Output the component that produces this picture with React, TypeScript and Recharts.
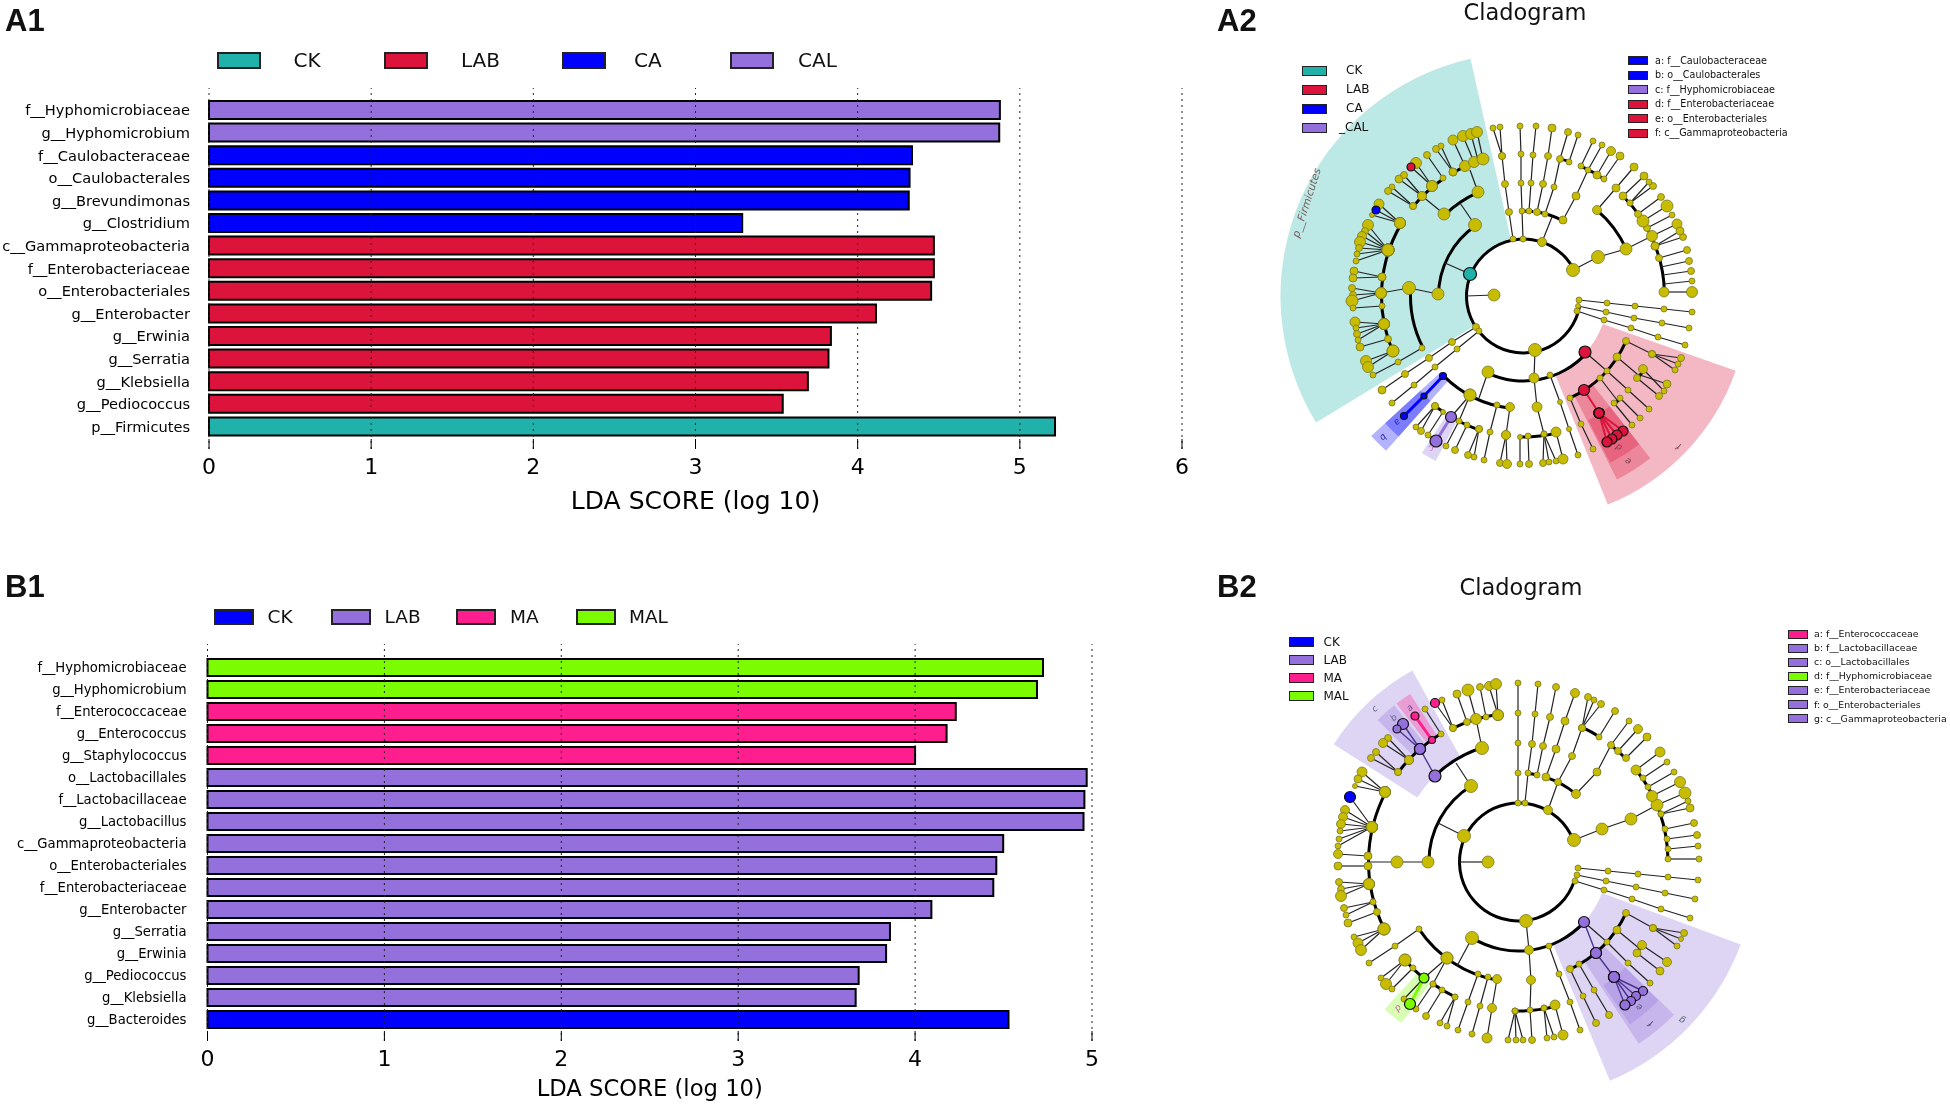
import React from "react";
import { Bar, BarChart, Cell, Pie, PieChart, ReferenceLine, Scatter, ScatterChart, XAxis, YAxis } from "recharts";

const FONT = "'DejaVu Sans', sans-serif";

const GROUP_COLORS: Record<string, string> = {
  CK: "#20B2AA", LAB: "#DC143C", CA: "#0000FF", CAL: "#9370DB",
  CK2: "#0000FF", LAB2: "#9370DB", MA: "#FF1E8E", MAL: "#7CFC00",
  base: "#C8BC00",
};
const LINE_COLORS: Record<string, string> = { base: "#222", LAB2: "#4b3590" };
const LINE_WIDTHS: Record<string, number> = { base: 1.2, LAB: 2, LAB2: 1.4, CA: 3, CAL: 3, MA: 3, MAL: 3, CK: 1.2, CK2: 1.2 };

// ---- LDA bar data, panel A1 ----
const a1Taxa = [
  "f__Hyphomicrobiaceae", "g__Hyphomicrobium", "f__Caulobacteraceae", "o__Caulobacterales", "g__Brevundimonas",
  "g__Clostridium", "c__Gammaproteobacteria", "f__Enterobacteriaceae", "o__Enterobacteriales", "g__Enterobacter",
  "g__Erwinia", "g__Serratia", "g__Klebsiella", "g__Pediococcus", "p__Firmicutes",
];
const a1Scores = [4.877, 4.873, 4.335, 4.32, 4.315, 3.288, 4.47, 4.47, 4.453, 4.113, 3.835, 3.82, 3.693, 3.538, 5.217];
const a1Groups = ["CAL", "CAL", "CA", "CA", "CA", "CA", "LAB", "LAB", "LAB", "LAB", "LAB", "LAB", "LAB", "LAB", "CK"];
const a1Ticks = [0, 1, 2, 3, 4, 5, 6];

// ---- LDA bar data, panel B1 ----
const b1Taxa = [
  "f__Hyphomicrobiaceae", "g__Hyphomicrobium", "f__Enterococcaceae", "g__Enterococcus", "g__Staphylococcus",
  "o__Lactobacillales", "f__Lactobacillaceae", "g__Lactobacillus", "c__Gammaproteobacteria", "o__Enterobacteriales",
  "f__Enterobacteriaceae", "g__Enterobacter", "g__Serratia", "g__Erwinia", "g__Pediococcus", "g__Klebsiella", "g__Bacteroides",
];
const b1Scores = [4.723, 4.689, 4.23, 4.178, 4.0, 4.97, 4.957, 4.952, 4.498, 4.459, 4.442, 4.092, 3.858, 3.836, 3.681, 3.664, 4.528];
const b1Groups = ["MAL", "MAL", "MA", "MA", "MA", "LAB2", "LAB2", "LAB2", "LAB2", "LAB2", "LAB2", "LAB2", "LAB2", "LAB2", "LAB2", "LAB2", "CK2"];
const b1Ticks = [0, 1, 2, 3, 4, 5];

// ---- cladogram A2 ----
// wedges: group, start angle, end angle, inner ring, outer ring
const a2Wedges: [string, number, number, number, number][] = [
  ["CK", 102.6, 211.4, 57, 243],
  ["LAB", -68, -19.4, 84, 225],
  ["LAB", -63, -52, 112, 206],
  ["LAB", -62.5, -52, 140, 188],
  ["CA", 222.6, 228.4, 113, 207],
  ["CA", 222.6, 228.4, 140, 188],
  ["CAL", 237.1, 242, 140, 187],
];
// thick arcs: ring, start angle, end angle
const a2Arcs: [number, number, number][] = [
  [57, 27.5, 350], [85, 62.5, 81], [85, 83.5, 90], [85, 124, 180], [85, 245, 318],
  [113, 113.6, 134], [113, 176, 207], [113, 24.6, 49.5], [113, 225, 263], [112, -65.5, -24],
  [142, 106.5, 120], [142, 124, 141], [142, 149, 203], [141, 1.6, 45], [142, 55.5, 66], [142, 71, 75],
  [141, 242, 251], [141, 231, 235], [141, 268.6, 283.4], [141, -36, -31], [141, -50, -47],
];
// branches of the tree: [x, y, size], clade colour by key
type P = [number, number, number];
const a2Branches: Record<string, P[][]> = {
  base: [
    [[1523, 239, 3], [1522, 211, 3], [1521, 183, 3], [1521, 154, 3], [1520, 126, 3]],
    [[1529, 211, 3], [1531, 183, 3], [1533, 155, 3], [1536, 126, 3]],
    [[1513, 239, 3], [1509, 212, 3.5], [1505, 184, 3.5], [1502, 156, 3.5], [1500, 127, 3]],
    [[1502, 156, 3.5], [1493, 128, 3]],
    [[1542, 242, 4.5], [1552, 217, 1]],
    [[1537, 212, 3.5], [1543, 184, 3.5], [1548, 156, 3.5], [1552, 128, 4]],
    [[1545, 214, 3], [1554, 187, 3], [1560, 159, 3.5], [1568, 132, 3.5]],
    [[1569, 162, 3], [1578, 135, 3]],
    [[1563, 220, 4], [1576, 196, 4], [1588, 170, 3], [1602, 145, 3]],
    [[1581, 166, 3], [1593, 141, 3]],
    [[1597, 175, 4], [1611, 151, 4.5]],
    [[1604, 179, 3], [1620, 156, 4]],
    [[1573, 270, 6.5], [1598, 257, 6.5], [1626, 249, 6], [1652, 236, 5.5], [1677, 224, 5]],
    [[1597, 210, 4.5], [1616, 188, 4], [1634, 167, 4]],
    [[1664, 292, 5], [1692, 292, 5.5]],
    [[1664, 284, 1], [1692, 281, 3]],
    [[1663, 275, 1], [1691, 271, 3.5]],
    [[1661, 267, 1], [1689, 261, 3.5]],
    [[1659, 258, 3.5], [1687, 250, 3.5]],
    [[1655, 246, 4], [1683, 237, 3.5]],
    [[1655, 246, 4], [1680, 231, 4]],
    [[1647, 228, 3.5], [1672, 215, 3]],
    [[1643, 221, 6], [1667, 206, 6]],
    [[1638, 214, 3.5], [1661, 197, 3.5]],
    [[1630, 203, 3], [1653, 186, 3.5]],
    [[1630, 203, 3], [1649, 182, 3]],
    [[1623, 196, 4], [1644, 176, 4]],
    [[1445, 263, 1], [1470, 274, 1]],
    [[1460, 203, 1], [1475, 225, 6.5]],
    [[1478, 192, 6], [1470, 170, 1]],
    [[1453, 172, 4], [1441, 146, 3]],
    [[1453, 172, 4], [1436, 149, 3.5]],
    [[1443, 178, 3], [1427, 155, 3.5]],
    [[1465, 166, 5.5], [1453, 140, 5]],
    [[1474, 162, 5.5], [1463, 136, 5.5]],
    [[1478, 160, 1], [1471, 134, 5.5]],
    [[1483, 159, 6], [1477, 132, 5.5]],
    [[1444, 214, 6], [1422, 196, 4.5], [1399, 179, 4]],
    [[1422, 196, 4.5], [1404, 175, 3.5]],
    [[1432, 186, 5.5], [1416, 163, 5.5]],
    [[1432, 186, 5.5], [1411, 167, 1]],
    [[1413, 206, 3.5], [1392, 187, 3]],
    [[1413, 206, 3.5], [1388, 191, 3.5]],
    [[1400, 223, 5.5], [1379, 204, 5]],
    [[1400, 223, 5.5], [1376, 210, 1]],
    [[1400, 223, 5.5], [1372, 215, 2.5]],
    [[1388, 250, 6], [1368, 225, 5.5]],
    [[1388, 250, 6], [1365, 231, 3.5]],
    [[1388, 250, 6], [1362, 236, 4.5]],
    [[1388, 250, 6], [1360, 242, 5.5]],
    [[1388, 250, 6], [1359, 248, 3.5]],
    [[1388, 250, 6], [1357, 254, 3]],
    [[1388, 250, 6], [1356, 261, 3]],
    [[1382, 277, 4], [1354, 271, 4]],
    [[1382, 277, 4], [1353, 278, 4]],
    [[1352, 288, 3.5], [1381, 293, 5.5], [1409, 288, 6.5], [1438, 294, 6]],
    [[1381, 293, 5.5], [1353, 295, 3.5]],
    [[1381, 293, 5.5], [1352, 301, 6]],
    [[1382, 306, 3], [1353, 308, 3]],
    [[1466, 296, 1], [1494, 295, 6]],
    [[1384, 324, 5.5], [1355, 322, 5]],
    [[1384, 324, 5.5], [1356, 328, 3]],
    [[1384, 324, 5.5], [1357, 334, 3.5]],
    [[1384, 324, 5.5], [1358, 340, 3]],
    [[1388, 339, 3.5], [1360, 347, 4]],
    [[1393, 351, 6], [1366, 361, 5.5]],
    [[1393, 351, 6], [1368, 367, 5.5]],
    [[1422, 348, 3], [1398, 362, 3], [1373, 375, 3]],
    [[1476, 327, 3.5], [1452, 342, 3.5], [1429, 358, 3.5], [1405, 374, 3.5], [1382, 390, 4]],
    [[1479, 331, 3], [1457, 349, 3], [1435, 367, 3], [1414, 385, 3], [1392, 403, 3]],
    [[1488, 372, 6], [1479, 398, 1]],
    [[1470, 395, 6], [1459, 421, 3], [1446, 446, 3]],
    [[1470, 395, 6], [1451, 417, 1]],
    [[1435, 406, 3.5], [1416, 427, 3]],
    [[1435, 406, 3.5], [1421, 431, 3.5]],
    [[1443, 412, 2.5], [1428, 435, 3]],
    [[1467, 425, 3], [1455, 450, 3.5]],
    [[1479, 429, 3.5], [1468, 455, 3.5]],
    [[1479, 429, 3.5], [1474, 457, 3]],
    [[1497, 405, 3], [1490, 432, 3], [1484, 460, 3]],
    [[1510, 407, 4.5], [1506, 435, 4.5], [1500, 463, 3.5]],
    [[1506, 435, 4.5], [1507, 464, 4.5]],
    [[1535, 350, 6.5], [1534, 378, 5], [1537, 407, 5], [1544, 434, 3], [1543, 463, 3.5]],
    [[1544, 434, 3], [1549, 462, 3]],
    [[1544, 434, 3], [1556, 461, 3]],
    [[1520, 437, 2.5], [1520, 464, 3]],
    [[1528, 436, 3], [1529, 464, 3.5]],
    [[1556, 432, 5], [1563, 459, 5]],
    [[1550, 375, 3], [1560, 402, 2.5], [1569, 429, 2.5], [1578, 455, 3]],
    [[1579, 300, 3], [1607, 303, 3], [1635, 306, 3], [1664, 309, 3], [1692, 312, 3]],
    [[1578, 306, 2.5], [1606, 312, 3], [1634, 318, 3], [1662, 323, 3], [1689, 328, 3]],
    [[1577, 311, 3], [1604, 320, 3], [1631, 328, 3], [1658, 337, 3], [1685, 345, 3]],
    [[1585, 352, 1], [1607, 371, 3], [1628, 390, 3], [1649, 409, 3]],
    [[1617, 357, 4], [1637, 374, 1], [1667, 384, 4]],
    [[1643, 369, 4.5], [1664, 391, 3]],
    [[1637, 378, 3.5], [1659, 396, 3.5]],
    [[1626, 341, 3.5], [1652, 354, 3.5], [1681, 358, 3.5]],
    [[1652, 354, 3.5], [1678, 364, 3]],
    [[1652, 354, 3.5], [1675, 370, 3]],
    [[1600, 378, 3], [1617, 400, 1]],
    [[1620, 398, 3], [1640, 418, 3]],
    [[1614, 403, 3], [1632, 425, 3]],
    [[1570, 398, 3], [1581, 424, 3], [1593, 449, 3]],
  ],
  CK: [[[1470, 274, 6.5]]],
  LAB: [
    [[1585, 352, 6]],
    [[1411, 167, 4]],
    [[1584, 390, 5.5], [1599, 413, 5]],
    [[1599, 413, 5], [1623, 431, 5]],
    [[1599, 413, 5], [1617, 435, 5]],
    [[1599, 413, 5], [1612, 439, 5]],
    [[1599, 413, 5], [1607, 442, 5]],
  ],
  CA: [
    [[1443, 376, 3.5], [1424, 396, 3], [1404, 416, 3.5]],
    [[1376, 210, 4]],
  ],
  CAL: [
    [[1451, 417, 5.5], [1436, 441, 6]],
  ],
};
const a2Labels = [
  { x: 1307, y: 203, text: "p__Firmicutes", angle: -72, color: "#7a5a5a", size: 10.5 },
  { x: 1383, y: 437, text: "b", angle: 135, color: "#2a2aa0", size: 9 },
  { x: 1397, y: 422, text: "a", angle: 135, color: "#2a2aa0", size: 9 },
  { x: 1431, y: 448, text: "c", angle: 150, color: "#cc66cc", size: 9 },
  { x: 1619, y: 447, text: "d", angle: -150, color: "#7a3a4a", size: 9 },
  { x: 1628, y: 461, text: "e", angle: -150, color: "#7a3a4a", size: 9 },
  { x: 1679, y: 446, text: "f", angle: -150, color: "#7a3a4a", size: 9 },
];
const a2Legend = ["CK", "LAB", "CA", "CAL"];
const a2CladeKey = [
  ["a: f__Caulobacteraceae", "CA"], ["b: o__Caulobacterales", "CA"], ["c: f__Hyphomicrobiaceae", "CAL"],
  ["d: f__Enterobacteriaceae", "LAB"], ["e: o__Enterobacteriales", "LAB"], ["f: c__Gammaproteobacteria", "LAB"],
];

// ---- cladogram B2 ----
const b2Wedges: [string, number, number, number, number][] = [
  ["LAB2", 119, 147.5, 120, 219],
  ["LAB2", 128.4, 134.8, 150, 200],
  ["MA", 122.8, 127.6, 150, 200],
  ["LAB2", -67.3, -20.4, 89, 237],
  ["LAB2", -56.5, -44.5, 119, 218],
  ["LAB2", -55.5, -44.7, 150, 197],
  ["MAL", 227.7, 234, 150, 199],
];
const b2Arcs: [number, number, number][] = [
  [59, 21.6, 341.4], [89.6, 122, 180], [89, 238.5, 317.5], [89, 50, 72], [89, 78, 84],
  [120, 107.8, 134], [120, 214, 260], [119, -64.3, -25.4],
  [150, 121, 143], [150, 152, 206.5], [149, 98, 116], [149, 57, 64.6], [149, 44, 52], [149.5, 1, 38],
  [149, 268.7, 284.3], [150, 220.8, 231], [149, 235, 245], [149, -37.5, -33.9],
];
const b2Branches: Record<string, P[][]> = {
  base: [
    [[1518, 803, 3], [1518, 773, 3], [1518, 743, 3], [1518, 713, 3], [1518, 683, 3]],
    [[1525, 803, 3], [1528, 773, 3], [1532, 744, 3.5], [1535, 714, 3], [1538, 684, 3]],
    [[1537, 775, 3], [1543, 746, 3.5], [1550, 717, 3.5], [1556, 687, 3.5]],
    [[1548, 810, 4.5], [1558, 782, 3.5], [1572, 756, 3.5], [1582, 728, 3.5], [1588, 697, 3.5]],
    [[1582, 728, 3.5], [1594, 700, 3]],
    [[1582, 728, 3.5], [1601, 704, 3.5]],
    [[1599, 737, 3], [1615, 711, 3.5]],
    [[1546, 777, 4], [1556, 749, 4], [1565, 721, 4], [1575, 693, 4.5]],
    [[1576, 794, 4.5], [1597, 772, 4], [1611, 745, 3.5], [1629, 721, 3]],
    [[1618, 751, 3.5], [1638, 729, 4.5]],
    [[1626, 758, 3.5], [1647, 737, 4]],
    [[1574, 840, 6.5], [1602, 829, 6], [1631, 819, 6], [1657, 805, 6], [1685, 793, 6]],
    [[1636, 770, 5], [1660, 752, 5]],
    [[1643, 778, 3], [1667, 762, 3]],
    [[1648, 787, 3], [1674, 772, 3]],
    [[1652, 796, 5.5], [1680, 782, 5.5]],
    [[1661, 814, 3], [1688, 801, 3]],
    [[1661, 814, 3], [1690, 808, 4]],
    [[1665, 829, 3], [1694, 823, 3.5]],
    [[1667, 839, 3], [1697, 835, 3.5]],
    [[1668, 849, 3], [1698, 846, 3]],
    [[1668, 859, 3], [1699, 859, 3]],
    [[1471, 786, 6.5], [1456, 763, 1]],
    [[1482, 748, 6.5], [1476, 719, 5.5], [1468, 690, 6]],
    [[1453, 728, 3.5], [1442, 700, 3]],
    [[1453, 728, 3.5], [1435, 703, 1]],
    [[1467, 722, 3.5], [1457, 694, 4]],
    [[1486, 717, 3], [1480, 687, 3.5]],
    [[1498, 715, 5.5], [1489, 686, 4.5]],
    [[1498, 715, 5.5], [1496, 684, 5.5]],
    [[1409, 760, 4.5], [1388, 738, 3.5]],
    [[1409, 760, 4.5], [1383, 743, 4.5]],
    [[1398, 772, 3.5], [1376, 752, 3.5]],
    [[1398, 772, 3.5], [1371, 758, 3.5]],
    [[1441, 734, 3], [1425, 709, 3]],
    [[1464, 836, 6.5], [1438, 823, 1]],
    [[1385, 792, 5.5], [1362, 772, 5]],
    [[1385, 792, 5.5], [1358, 779, 4]],
    [[1385, 792, 5.5], [1355, 786, 2.5]],
    [[1372, 827, 5.5], [1350, 797, 1]],
    [[1372, 827, 5.5], [1345, 810, 4.5]],
    [[1372, 827, 5.5], [1343, 817, 4.5]],
    [[1372, 827, 5.5], [1341, 824, 4.5]],
    [[1372, 827, 5.5], [1340, 831, 3]],
    [[1372, 827, 5.5], [1339, 839, 3]],
    [[1372, 827, 5.5], [1338, 846, 3]],
    [[1368, 856, 4], [1338, 854, 4.5]],
    [[1368, 866, 4], [1338, 866, 4]],
    [[1368, 862, 1], [1397, 862, 6], [1428, 862, 6]],
    [[1459, 862, 1], [1488, 862, 6]],
    [[1369, 884, 5.5], [1339, 882, 3.5]],
    [[1369, 884, 5.5], [1341, 889, 3.5]],
    [[1369, 884, 5.5], [1341, 896, 5.5]],
    [[1373, 902, 3], [1344, 908, 3.5]],
    [[1373, 902, 3], [1346, 915, 3]],
    [[1377, 912, 3.5], [1348, 923, 4]],
    [[1384, 929, 6], [1354, 937, 3]],
    [[1384, 929, 6], [1358, 943, 5]],
    [[1384, 929, 6], [1361, 950, 5.5]],
    [[1419, 929, 3], [1395, 946, 3], [1369, 963, 3]],
    [[1472, 938, 6.5], [1457, 966, 1]],
    [[1447, 958, 6], [1433, 984, 3]],
    [[1447, 958, 6], [1424, 978, 1]],
    [[1405, 960, 6], [1381, 978, 3]],
    [[1405, 960, 6], [1386, 984, 5.5]],
    [[1413, 968, 3], [1392, 989, 3]],
    [[1424, 978, 1], [1404, 999, 3]],
    [[1433, 984, 3], [1416, 1009, 3]],
    [[1442, 990, 3], [1426, 1016, 3.5]],
    [[1455, 997, 3], [1440, 1023, 3]],
    [[1455, 997, 3], [1447, 1026, 3]],
    [[1478, 974, 3], [1468, 1002, 3], [1458, 1030, 3]],
    [[1488, 977, 3], [1480, 1006, 3], [1472, 1034, 3]],
    [[1497, 979, 4.5], [1492, 1008, 4.5], [1487, 1038, 5]],
    [[1526, 921, 6.5], [1529, 950, 4.5], [1531, 980, 4.5], [1530, 1010, 3], [1532, 1040, 3.5]],
    [[1515, 1011, 3], [1508, 1040, 3]],
    [[1515, 1011, 3], [1516, 1040, 3]],
    [[1515, 1011, 3], [1523, 1040, 3]],
    [[1544, 1008, 3], [1547, 1038, 3]],
    [[1544, 1008, 3], [1554, 1037, 3]],
    [[1555, 1005, 5], [1563, 1035, 5]],
    [[1549, 946, 3], [1559, 974, 3], [1570, 1002, 3], [1580, 1030, 3]],
    [[1578, 868, 3], [1608, 871, 3], [1638, 874, 3], [1668, 877, 3], [1698, 880, 3]],
    [[1577, 875, 3], [1606, 881, 3], [1636, 887, 3], [1665, 893, 3], [1695, 899, 3]],
    [[1575, 881, 3], [1604, 890, 3], [1632, 899, 3], [1661, 909, 3], [1690, 918, 3]],
    [[1584, 922, 1], [1607, 942, 3], [1628, 963, 3], [1650, 983, 3]],
    [[1570, 969, 3.5], [1583, 996, 3], [1596, 1023, 3.5]],
    [[1579, 964, 3], [1594, 990, 3], [1609, 1015, 3.5]],
    [[1617, 930, 4], [1640, 949, 1]],
    [[1642, 945, 4.5], [1667, 962, 4.5]],
    [[1637, 953, 4], [1660, 971, 4]],
    [[1626, 913, 3.5], [1653, 928, 3.5], [1684, 933, 3.5]],
    [[1653, 928, 3.5], [1681, 939, 2.5]],
    [[1653, 928, 3.5], [1677, 946, 3]],
  ],
  CK2: [[[1350, 797, 5.5]]],
  LAB2: [
    [[1435, 776, 6], [1420, 749, 5.5]],
    [[1420, 749, 5.5], [1403, 724, 5.5]],
    [[1420, 749, 5.5], [1397, 729, 4]],
    [[1584, 922, 5.5], [1596, 953, 5.5]],
    [[1596, 953, 5.5], [1614, 977, 5.5]],
    [[1614, 977, 5.5], [1643, 991, 4.5]],
    [[1614, 977, 5.5], [1636, 996, 4.5]],
    [[1614, 977, 5.5], [1631, 1001, 4.5]],
    [[1614, 977, 5.5], [1625, 1005, 5]],
  ],
  MA: [
    [[1432, 740, 3.5], [1415, 716, 4]],
    [[1435, 703, 4.5]],
  ],
  MAL: [[[1424, 978, 5], [1410, 1004, 5.5]]],
};
const b2Labels = [
  { x: 1375, y: 709, text: "c", angle: -45, color: "#666688", size: 9 },
  { x: 1394, y: 718, text: "b", angle: -45, color: "#666688", size: 9 },
  { x: 1410, y: 708, text: "a", angle: -45, color: "#7a4a8a", size: 9 },
  { x: 1398, y: 1008, text: "d", angle: 135, color: "#cc66aa", size: 9 },
  { x: 1639, y: 1007, text: "e", angle: -150, color: "#555577", size: 9 },
  { x: 1651, y: 1023, text: "f", angle: -150, color: "#444466", size: 9 },
  { x: 1682, y: 1020, text: "g", angle: -150, color: "#556677", size: 9 },
];
const b2Legend = [["CK", "CK2"], ["LAB", "LAB2"], ["MA", "MA"], ["MAL", "MAL"]];
const b2CladeKey = [
  ["a: f__Enterococcaceae", "MA"], ["b: f__Lactobacillaceae", "LAB2"], ["c: o__Lactobacillales", "LAB2"],
  ["d: f__Hyphomicrobiaceae", "MAL"], ["e: f__Enterobacteriaceae", "LAB2"], ["f: o__Enterobacteriales", "LAB2"],
  ["g: c__Gammaproteobacteria", "LAB2"],
];

function LdaBars({ left, top, width, height, plotLeft, plotRight, plotTop, xHeight, taxa, scores, groups, ticks, pad, labelSize, labelGap, titleSize, barSize, titleOffset }: any) {
  const rows = taxa.map((name: string, i: number) => ({ name, score: scores[i], group: groups[i] }));
  return (
    <div style={{ position: "absolute", left, top, width, height }}>
      <BarChart
        width={width}
        height={height}
        data={rows}
        layout="vertical"
        margin={{ top: plotTop, right: width - plotRight, left: 0, bottom: 0 }}
        barCategoryGap={0}
      >
        <XAxis
          type="number"
          domain={[ticks[0], ticks[ticks.length - 1]]}
          ticks={ticks}
          height={xHeight}
          axisLine={false}
          tickSize={-10}
          tickMargin={19}
          tickLine={{ stroke: "#000", strokeWidth: 1 }}
          tick={{ fontFamily: FONT, fontSize: 22, fill: "#000" }}
          interval={0}
          label={{ value: "LDA SCORE (log 10)", position: "insideBottom", offset: titleOffset, fontFamily: FONT, fontSize: titleSize, fill: "#000" }}
        />
        <XAxis
          xAxisId="top"
          orientation="top"
          type="number"
          domain={[ticks[0], ticks[ticks.length - 1]]}
          ticks={ticks}
          height={0}
          axisLine={false}
          tickSize={-10}
          tick={false}
          tickLine={{ stroke: "#000", strokeWidth: 1 }}
          interval={0}
        />
        <YAxis
          type="category"
          dataKey="name"
          width={plotLeft}
          padding={pad}
          interval={0}
          axisLine={false}
          tickLine={false}
          tickMargin={labelGap}
          tick={{ fontFamily: FONT, fontSize: labelSize, fill: "#000" }}
        />
        <Bar dataKey="score" barSize={barSize} stroke="#000" strokeWidth={2} isAnimationActive={false}>
          {rows.map((r: any, i: number) => (
            <Cell key={i} fill={GROUP_COLORS[r.group]} />
          ))}
        </Bar>
        {ticks.map((t: number) => (
          <ReferenceLine key={t} x={t} stroke="#222" strokeWidth={1} strokeDasharray="2 4" />
        ))}
      </BarChart>
    </div>
  );
}

function NodeDot(props: any) {
  const { cx, cy, payload } = props;
  if (payload.r < 1.5) return <g />;
  const base = payload.group === "base";
  return (
    <circle cx={cx} cy={cy} r={payload.r} fill={GROUP_COLORS[payload.group]} stroke={base ? "#77772a" : "#111"} strokeWidth={base ? 0.8 : 1.2} />
  );
}

function LabelMark(props: any) {
  const { cx, cy, payload } = props;
  return (
    <text x={cx} y={cy} textAnchor="middle" dominantBaseline="middle" fontFamily={FONT} fontStyle="italic" fontSize={payload.size} fill={payload.color} transform={`rotate(${payload.angle} ${cx} ${cy})`}>
      {payload.text}
    </text>
  );
}

const NoDot = () => <g />;

function Cladogram({ frame, center, wedges, arcs, branches, labels }: any) {
  const { left, top, width, height } = frame;
  const cx = center[0] - left;
  const cy = center[1] - top;
  const groups = Object.keys(branches);
  return (
    <div style={{ position: "absolute", left, top, width, height }}>
      <div style={{ position: "absolute", left: 0, top: 0 }}>
        <PieChart width={width} height={height} margin={{ top: 0, right: 0, bottom: 0, left: 0 }}>
          {wedges.map((w: any, i: number) => (
            <Pie key={`w${i}`} data={[{ value: 1 }]} dataKey="value" cx={cx} cy={cy} startAngle={w[1]} endAngle={w[2]} innerRadius={w[3]} outerRadius={w[4]} fill={GROUP_COLORS[w[0]]} fillOpacity={0.3} stroke="none" isAnimationActive={false} />
          ))}
          {arcs.map((a: any, i: number) => (
            <Pie key={`a${i}`} data={[{ value: 1 }]} dataKey="value" cx={cx} cy={cy} startAngle={a[1]} endAngle={a[2]} innerRadius={a[0] - 1.5} outerRadius={a[0] + 1.5} fill="#000" stroke="none" isAnimationActive={false} />
          ))}
        </PieChart>
      </div>
      <div style={{ position: "absolute", left: 0, top: 0 }}>
        <ScatterChart width={width} height={height} margin={{ top: 0, right: 0, bottom: 0, left: 0 }}>
          <XAxis type="number" dataKey="x" domain={[left, left + width]} hide />
          <YAxis type="number" dataKey="y" domain={[top, top + height]} reversed hide />
          {groups.flatMap((g) =>
            branches[g].filter((chain: P[]) => chain.length > 1).map((chain: P[], i: number) => (
              <Scatter
                key={`${g}-line-${i}`}
                data={chain.map((p) => ({ x: p[0], y: p[1] }))}
                line={{ stroke: LINE_COLORS[g] ?? GROUP_COLORS[g], strokeWidth: LINE_WIDTHS[g] }}
                shape={NoDot}
                isAnimationActive={false}
              />
            ))
          )}
          {groups.map((g) => (
            <Scatter
              key={`${g}-nodes`}
              data={branches[g].flat().map((p: P) => ({ x: p[0], y: p[1], r: p[2], group: g }))}
              shape={NodeDot}
              isAnimationActive={false}
            />
          ))}
          <Scatter data={labels} shape={LabelMark} isAnimationActive={false} />
        </ScatterChart>
      </div>
    </div>
  );
}

function Swatch({ x, y, w, h, color, border = 2 }: any) {
  return <div style={{ position: "absolute", left: x, top: y, width: w - 2 * border, height: h - 2 * border, background: color, border: `${border}px solid #222` }} />;
}

function Txt({ x, y, size, children, family = FONT, weight = "normal", anchor }: any) {
  const shift = anchor === "middle" ? "translate(-50%, -50%)" : "translateY(-50%)";
  return (
    <div style={{ position: "absolute", left: x, top: y, transform: shift, fontFamily: family, fontSize: size, fontWeight: weight, color: "#111", whiteSpace: "nowrap", lineHeight: 1 }}>
      {children}
    </div>
  );
}

export default function App() {
  const bold = "'Liberation Sans', Arial, sans-serif";
  return (
    <div style={{ position: "absolute", left: 0, top: 0, width: 1950, height: 1107, background: "#fff", overflow: "hidden", filter: "blur(0.4px)" }}>
      <LdaBars left={0} top={0} width={1200} height={540} plotLeft={209} plotRight={1182} plotTop={88} xHeight={91} taxa={a1Taxa} scores={a1Scores} groups={a1Groups} ticks={a1Ticks} pad={{ top: 11, bottom: 11 }} labelSize={14.6} labelGap={13} titleSize={25} barSize={18} titleOffset={31} />
      <LdaBars left={0} top={560} width={1200} height={547} plotLeft={207.5} plotRight={1092} plotTop={84} xHeight={66} taxa={b1Taxa} scores={b1Scores} groups={b1Groups} ticks={b1Ticks} pad={{ top: 12, bottom: 11 }} labelSize={13.2} labelGap={15} titleSize={22.7} barSize={17} titleOffset={11} />

      <Cladogram frame={{ left: 1250, top: 40, width: 700, height: 500 }} center={[1523.5, 296]} wedges={a2Wedges} arcs={a2Arcs} branches={a2Branches} labels={a2Labels} />
      <Cladogram frame={{ left: 1250, top: 620, width: 700, height: 487 }} center={[1518.5, 862]} wedges={b2Wedges} arcs={b2Arcs} branches={b2Branches} labels={b2Labels} />

      <Txt x={5} y={20} size={31} family={bold} weight="bold">A1</Txt>
      <Txt x={1217} y={20} size={31} family={bold} weight="bold">A2</Txt>
      <Txt x={5} y={586} size={31} family={bold} weight="bold">B1</Txt>
      <Txt x={1217} y={586} size={31} family={bold} weight="bold">B2</Txt>

      <Txt x={1525} y={12} size={22.5} anchor="middle">Cladogram</Txt>
      <Txt x={1521} y={587} size={22.5} anchor="middle">Cladogram</Txt>

      {a2Legend.map((g, i) => {
        const xs = [217, 384, 562, 730];
        const ts = [293.5, 461, 634, 798];
        return (
          <React.Fragment key={g}>
            <Swatch x={xs[i]} y={52} w={44} h={17} color={GROUP_COLORS[g]} />
            <Txt x={ts[i]} y={60} size={20}>{g}</Txt>
          </React.Fragment>
        );
      })}
      {b2Legend.map(([name, g], i) => {
        const xs = [214, 331, 456, 576];
        const ts = [267.5, 384.5, 510, 629];
        return (
          <React.Fragment key={name}>
            <Swatch x={xs[i]} y={609} w={40} h={16} color={GROUP_COLORS[g]} />
            <Txt x={ts[i]} y={617} size={18.5}>{name}</Txt>
          </React.Fragment>
        );
      })}

      {a2Legend.map((g, i) => (
        <React.Fragment key={g}>
          <Swatch x={1302} y={66 + i * 19} w={25} h={10} color={GROUP_COLORS[g]} border={1} />
          <Txt x={g === "CAL" ? 1339 : 1346} y={70 + i * 19} size={12}>{g === "CAL" ? "_CAL" : g}</Txt>
        </React.Fragment>
      ))}
      {a2CladeKey.map(([t, g], i) => (
        <React.Fragment key={t}>
          <Swatch x={1628} y={56 + i * 14.5} w={20} h={9} color={GROUP_COLORS[g]} border={1} />
          <Txt x={1655} y={60.5 + i * 14.5} size={9.6}>{t}</Txt>
        </React.Fragment>
      ))}
      {b2Legend.map(([name, g], i) => (
        <React.Fragment key={name}>
          <Swatch x={1289} y={637 + i * 18} w={25} h={10} color={GROUP_COLORS[g]} border={1} />
          <Txt x={1323.5} y={642 + i * 18} size={12}>{name}</Txt>
        </React.Fragment>
      ))}
      {b2CladeKey.map(([t, g], i) => (
        <React.Fragment key={t}>
          <Swatch x={1788} y={629.5 + i * 14.1} w={20} h={9} color={GROUP_COLORS[g]} border={1} />
          <Txt x={1814} y={634 + i * 14.1} size={9.4}>{t}</Txt>
        </React.Fragment>
      ))}
    </div>
  );
}
